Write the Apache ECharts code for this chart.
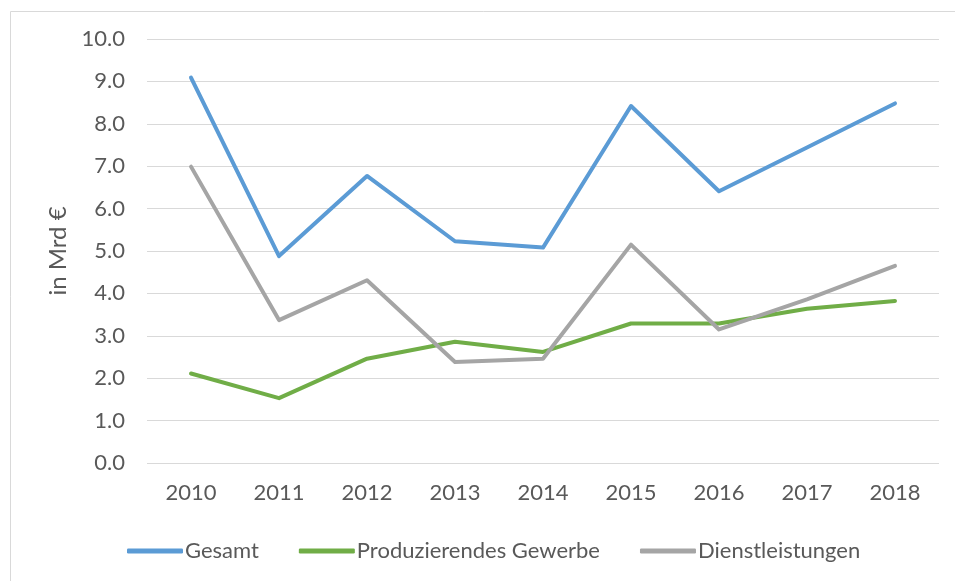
<!DOCTYPE html>
<html>
<head>
<meta charset="utf-8">
<script src="https://cdn.jsdelivr.net/npm/echarts@6/dist/echarts.min.js"></script>
<style>
html,body{margin:0;padding:0;background:#fff;}
#chart{width:955px;height:581px;}
</style>
</head>
<body>
<div id="chart"></div>
<script>
const years = ['2010','2011','2012','2013','2014','2015','2016','2017','2018'];
const gesamt = [9.09, 4.88, 6.77, 5.23, 5.08, 8.42, 6.41, 7.44, 8.48];
const produzierendesGewerbe = [2.11, 1.53, 2.46, 2.86, 2.62, 3.29, 3.29, 3.64, 3.82];
const dienstleistungen = [6.99, 3.37, 4.31, 2.38, 2.46, 5.15, 3.15, 3.86, 4.65];
const seriesNames = ['Gesamt', 'Produzierendes Gewerbe', 'Dienstleistungen'];
const yAxisTitle = 'in Mrd €';

const colors = ['#5B9BD5', '#70AD47', '#A5A5A5'];
const font = 'Lato';
const textColor = '#595959';
const fs = 22;

const chart = echarts.init(document.getElementById('chart'), null, {renderer: 'canvas'});
function mkSeries(name, data, color) {
  return {
    name: name, type: 'line', data: data, symbol: 'none', smooth: false,
    lineStyle: {width: 4, color: color, cap: 'round', join: 'round'},
    itemStyle: {color: color},
    emphasis: {disabled: true}
  };
}
chart.setOption({
  animation: false,
  color: colors,
  textStyle: {fontFamily: font},
  graphic: [{
    type: 'rect', left: 8, top: 9, silent: true,
    shape: {x: 0, y: 0, width: 960, height: 590},
    style: {fill: 'none', stroke: '#d9d9d9', lineWidth: 1}
  }],
  grid: {left: 147, right: 16, top: 39, bottom: 118, containLabel: false},
  legend: {
    left: 122, top: 535, itemWidth: 56, itemHeight: 5, itemGap: 40,
    icon: 'roundRect',
    textStyle: {fontFamily: font, fontSize: 22, color: textColor, padding: [0,0,0,-3]},
    data: seriesNames
  },
  xAxis: {
    type: 'category', data: years, boundaryGap: true,
    axisLine: {show: false}, axisTick: {show: false},
    axisLabel: {fontFamily: font, fontSize: fs, color: textColor, margin: 19}
  },
  yAxis: {
    type: 'value', min: 0, max: 10, interval: 1,
    name: yAxisTitle, nameLocation: 'middle', nameGap: 76, nameRotate: 90,
    nameTextStyle: {fontFamily: font, fontSize: 24, color: textColor},
    axisLine: {show: false}, axisTick: {show: false},
    axisLabel: {fontFamily: font, fontSize: fs, color: textColor, margin: 22,
      formatter: v => v.toFixed(1)},
    splitLine: {lineStyle: {color: '#d9d9d9', width: 1}}
  },
  series: [
    mkSeries(seriesNames[0], gesamt, colors[0]),
    mkSeries(seriesNames[1], produzierendesGewerbe, colors[1]),
    mkSeries(seriesNames[2], dienstleistungen, colors[2])
  ]
});
</script>
</body>
</html>
